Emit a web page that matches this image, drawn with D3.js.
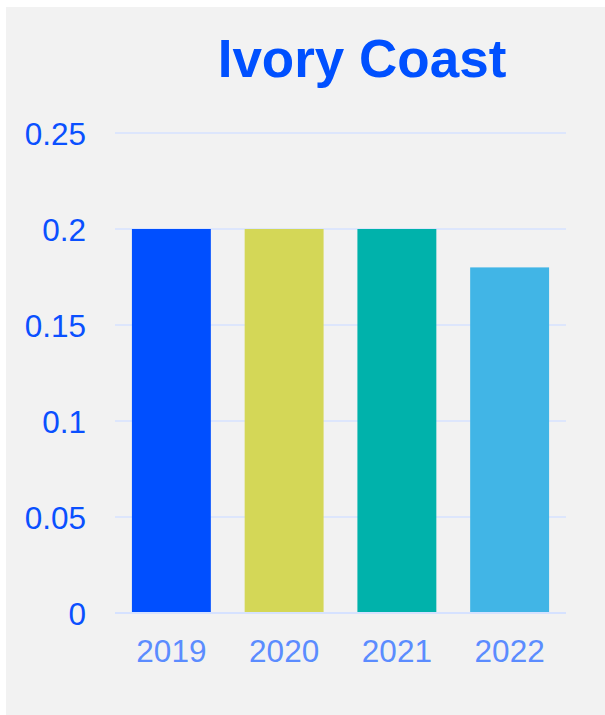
<!DOCTYPE html>
<html>
<head>
<meta charset="utf-8">
<script src="https://cdn.jsdelivr.net/npm/d3@7"></script>
<style>
  html, body { margin: 0; padding: 0; background: #ffffff; }
  svg { display: block; }
</style>
</head>
<body>
<div id="chart"></div>
<script>
const title = "Ivory Coast";
const categories = ["2019", "2020", "2021", "2022"];
const values = [0.2, 0.2, 0.2, 0.18];
const colors = ["#004fff", "#d4d757", "#00b2ab", "#41b5e6"];
const yTicks = [0, 0.05, 0.1, 0.15, 0.2, 0.25];
const yTickLabels = ["0", "0.05", "0.1", "0.15", "0.2", "0.25"];

(function () {
const W = 605, H = 715;
const svg = d3.select("#chart").append("svg").attr("width", W).attr("height", H);

svg.append("rect").attr("x", 6).attr("y", 7).attr("width", W - 6).attr("height", H - 7)
  .attr("fill", "#f2f2f2");

const pLeft = 115, pRight = 566, pTop = 133, pBottom = 613;
const x = d3.scaleBand().domain(categories).range([pLeft, pRight]).paddingInner(0.3).paddingOuter(0.15);
const y = d3.scaleLinear().domain([0, 0.25]).range([pBottom, pTop]);

// gridlines
svg.append("g").selectAll("line").data(yTicks).join("line")
  .attr("x1", pLeft).attr("x2", pRight)
  .attr("y1", d => y(d)).attr("y2", d => y(d))
  .attr("stroke", "#d6e2ff").attr("stroke-width", 1.5);

// bars
svg.append("g").selectAll("rect").data(values).join("rect")
  .attr("x", (d, i) => x(categories[i]))
  .attr("width", x.bandwidth())
  .attr("y", d => y(d))
  .attr("height", d => y(0) - y(d))
  .attr("fill", (d, i) => colors[i]);

// zero line on top
svg.append("line").attr("x1", pLeft).attr("x2", pRight).attr("y1", y(0)).attr("y2", y(0))
  .attr("stroke", "#d6e2ff").attr("stroke-width", 2);

// y axis labels
const yAxis = d3.axisLeft(y).tickValues(yTicks).tickFormat((d, i) => yTickLabels[i]).tickSize(0).tickPadding(0);
const gy = svg.append("g").attr("transform", "translate(86,0)").call(yAxis);
gy.select(".domain").remove();
gy.selectAll("text").attr("fill", "#0a50ff").attr("font-size", 31.5)
  .attr("font-family", "Liberation Sans, Arial, sans-serif").attr("dy", "0.35em").attr("x", 0);

// x axis labels
const xAxis = d3.axisBottom(x).tickSize(0).tickPadding(0);
const gx = svg.append("g").attr("transform", "translate(0,662)").call(xAxis);
gx.select(".domain").remove();
gx.selectAll("text").attr("fill", "#5b8cff").attr("font-size", 31.5)
  .attr("font-family", "Liberation Sans, Arial, sans-serif").attr("dy", 0).attr("y", 0);

// title
svg.append("text").attr("x", 362).attr("y", 77).attr("text-anchor", "middle")
  .attr("font-family", "Liberation Sans, Arial, sans-serif").attr("font-weight", "bold")
  .attr("font-size", 53).attr("fill", "#0050ff").text(title);
})();
</script>
</body>
</html>
